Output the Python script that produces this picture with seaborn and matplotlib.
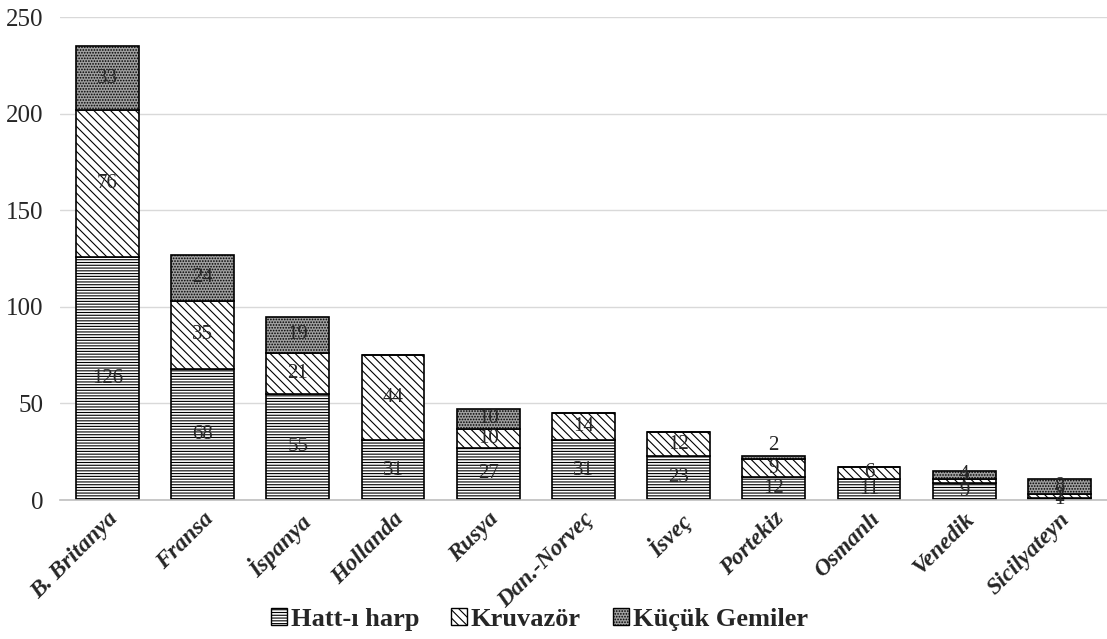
import pandas as pd
import matplotlib.pyplot as plt
import seaborn as sns
import numpy as np
from matplotlib.patches import Patch

countries = ['B. Britanya', 'Fransa', 'İspanya', 'Hollanda', 'Rusya', 'Dan.-Norveç',
             'İsveç', 'Portekiz', 'Osmanlı', 'Venedik', 'Sicilyateyn']
hatt = [126, 68, 55, 31, 27, 31, 23, 12, 11, 9, 1]
kruvazor = [76, 35, 21, 44, 10, 14, 12, 9, 6, 2, 2]
kucuk = [33, 24, 19, 0, 10, 0, 0, 2, 0, 4, 8]
series_names = ['Hatt-ı harp', 'Kruvazör', 'Küçük Gemiler']

sns.set_style('white')
plt.rcParams['font.family'] = ['Liberation Serif', 'DejaVu Serif']
plt.rcParams['hatch.linewidth'] = 0.8

df = pd.DataFrame({'Ülke': countries, 'Hatt-ı harp': hatt,
                   'Kruvazör': kruvazor, 'Küçük Gemiler': kucuk})

fig, ax = plt.subplots(figsize=(11.07, 6.39), dpi=100)

styles = {
    'Hatt-ı harp': dict(color='white', hatch='------'),
    'Kruvazör': dict(color='white', hatch='\\\\\\\\'),
    'Küçük Gemiler': dict(color='#a0a0a0', hatch='......'),
}

bottom = np.zeros(len(countries))
for name in series_names:
    vals = df[name].values
    sns.barplot(x='Ülke', y=name, data=df, ax=ax, bottom=bottom,
                width=0.66, edgecolor='black', linewidth=1.2, **styles[name])
    for i, v in enumerate(vals):
        if v == 0:
            continue
        y = bottom[i] + v / 2
        # tiny top segment: label sits above the bar
        if v < 3 and name == 'Küçük Gemiler':
            y = bottom[i] + v + 5
        ax.text(i, y, str(v), ha='center', va='center', fontsize=15)
    bottom = bottom + vals

ax.set_ylim(0, 250)
ax.set_yticks(range(0, 251, 50))
ax.set_xlim(-0.5, len(countries) - 0.5)
ax.yaxis.grid(True, color='#d9d9d9', linewidth=1)
ax.set_axisbelow(True)
for s in ['top', 'right', 'left']:
    ax.spines[s].set_visible(False)
ax.spines['bottom'].set_color('#bfbfbf')
ax.spines['bottom'].set_linewidth(1.2)
ax.set_xlabel('')
ax.set_ylabel('')
ax.tick_params(axis='y', labelsize=18, length=0, pad=12)
ax.tick_params(axis='x', length=0, pad=6)
ax.set_xticks(range(len(countries)))
ax.set_xticklabels(countries, rotation=45, ha='right', rotation_mode='anchor',
                   fontsize=17, fontweight='bold', fontstyle='italic')

handles = [Patch(facecolor=styles[n]['color'], hatch=styles[n]['hatch'],
                 edgecolor='black', label=n) for n in series_names]
ax.legend(handles=handles, loc='lower center', bbox_to_anchor=(0.458, -0.32), ncol=3,
          frameon=False, prop={'size': 19, 'weight': 'bold'},
          handlelength=0.6, handleheight=0.6, handletextpad=0.15, columnspacing=1.2)

plt.subplots_adjust(left=0.054, right=1.0, top=0.973, bottom=0.2175)
plt.savefig('out.png', dpi=100)
plt.close()
